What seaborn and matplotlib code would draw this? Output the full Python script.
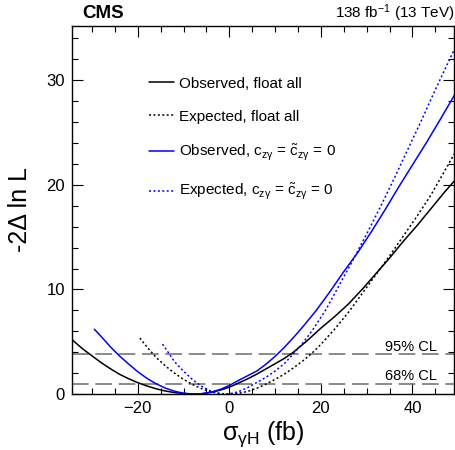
import matplotlib
matplotlib.use("Agg")
import matplotlib.pyplot as plt
from matplotlib.ticker import MultipleLocator
import seaborn as sns

# scan curves
obs_all_x = [-34.4, -32, -30, -28, -26, -24, -22, -20, -18, -16, -14, -12, -10, -8, -6, -4, -2, 0,
             2, 4, 6, 8, 10, 12, 14, 17, 20, 23, 26, 29, 32, 35, 38, 41, 44, 47, 49.2]
obs_all_y = [5.2, 4.3, 3.65, 3.0, 2.42, 1.89, 1.46, 1.08, 0.77, 0.50, 0.29, 0.14, 0.04, 0.0, 0.03, 0.15, 0.37, 0.65,
             1.05, 1.45, 1.9, 2.4, 2.9, 3.4, 4.0, 5.1, 6.3, 7.4, 8.6, 10.0, 11.5, 13.0, 14.6, 16.1, 17.7, 19.3, 20.4]

exp_all_x = [-19.55, -18, -16, -14, -12, -10, -8, -6, -4, -2, 0, 2, 4, 6, 8, 10, 12, 14, 16, 18,
             20, 23, 26, 29, 32, 35, 38, 41, 44, 47, 49.2]
exp_all_y = [5.35, 4.5, 3.5, 2.7, 2.0, 1.4, 0.9, 0.5, 0.2, 0.04, 0.0, 0.07, 0.25, 0.55, 0.95, 1.4, 1.9, 2.5, 3.15, 3.88,
             4.75, 6.2, 7.8, 9.6, 11.4, 13.2, 15.1, 17.0, 19.0, 21.3, 23.0]

obs_c0_x = [-29.5, -28, -26, -24, -22, -20, -18, -16, -14, -12, -10, -8, -6, -4, -2, 0, 2, 4, 6, 8,
            10, 12, 14, 16, 19, 22, 25, 28, 31, 34, 37, 40, 43, 46, 49.2]
obs_c0_y = [6.2, 5.5, 4.52, 3.64, 2.87, 2.13, 1.5, 0.98, 0.57, 0.27, 0.08, 0.0, 0.03, 0.18, 0.44, 0.82, 1.3, 1.75, 2.2, 2.85,
            3.6, 4.45, 5.4, 6.4, 8.0, 9.8, 11.7, 13.5, 15.5, 17.6, 19.8, 21.9, 24.0, 26.2, 28.6]

exp_c0_x = [-14.6, -14, -12, -10, -8, -6, -4, -2, -1, 0, 2, 4, 6, 8, 10, 12, 14, 16, 18, 21,
            24, 27, 30, 33, 36, 39, 42, 45, 49.2]
exp_c0_y = [4.77, 4.4, 3.1, 2.18, 1.36, 0.72, 0.26, 0.03, 0.0, 0.02, 0.22, 0.61, 1.1, 1.6, 2.2, 2.9, 3.85, 4.85, 6.0, 8.0,
            10.4, 12.8, 15.3, 17.9, 20.6, 23.4, 26.2, 29.1, 33.0]

cl_values = [1.0, 3.84]
cl_labels = ["68% CL", "95% CL"]

labels = ["Observed, float all",
          "Expected, float all",
          r"Observed, c$_{z\gamma}$ = $\tilde{\mathrm{c}}_{z\gamma}$ = 0",
          r"Expected, c$_{z\gamma}$ = $\tilde{\mathrm{c}}_{z\gamma}$ = 0"]

sns.set_style("ticks")
plt.rcParams["font.family"] = ["Liberation Sans", "DejaVu Sans"]
plt.rcParams["mathtext.fontset"] = "custom"
plt.rcParams["mathtext.rm"] = "Liberation Sans"
plt.rcParams["mathtext.it"] = "Liberation Sans"
plt.rcParams["mathtext.bf"] = "Liberation Sans:bold"
for k in ["text.color", "axes.labelcolor", "xtick.color", "ytick.color", "axes.edgecolor"]:
    plt.rcParams[k] = "black"

fig = plt.figure(figsize=(4.55, 4.5), dpi=100)
ax = fig.add_axes([0.158, 0.1244, 0.84, 0.818])

dot = (0, (1.3, 1.6))
sns.lineplot(x=obs_all_x, y=obs_all_y, ax=ax, color="black", lw=1.1, sort=False, estimator=None, label=labels[0])
sns.lineplot(x=exp_all_x, y=exp_all_y, ax=ax, color="black", lw=1.1, linestyle=dot, sort=False, estimator=None, label=labels[1])
sns.lineplot(x=obs_c0_x, y=obs_c0_y, ax=ax, color="#0000ff", lw=1.1, sort=False, estimator=None, label=labels[2])
sns.lineplot(x=exp_c0_x, y=exp_c0_y, ax=ax, color="#0000ff", lw=1.1, linestyle=dot, sort=False, estimator=None, label=labels[3])

for v, t in zip(cl_values, cl_labels):
    ax.axhline(v, color="#777777", lw=1.2, linestyle=(0, (10, 4)), zorder=1)
    ax.text(33.9, v + 0.3, t, fontsize=10.5, ha="left", va="baseline")

ax.set_xlim(-34.4, 49.1)
ax.set_ylim(0, 35.2)
ax.xaxis.set_major_locator(MultipleLocator(20))
ax.xaxis.set_minor_locator(MultipleLocator(5))
ax.yaxis.set_major_locator(MultipleLocator(10))
ax.yaxis.set_minor_locator(MultipleLocator(2))
ax.tick_params(which="both", direction="in", top=True, right=True, width=0.8, labelsize=12)
ax.tick_params(which="major", length=8, pad=5)
ax.tick_params(which="minor", length=4)
for s in ax.spines.values():
    s.set_linewidth(1.0)

ax.set_xlabel(r"$\sigma_{\gamma\mathrm{H}}$ (fb)", fontsize=18)
ax.set_ylabel("-2Δ ln L", fontsize=18)
ax.xaxis.set_label_coords(0.5, -0.07)
ax.yaxis.set_label_coords(-0.105, 0.5)

ax.legend(loc="upper left", bbox_to_anchor=(0.2016, 0.862), frameon=False, fontsize=11,
          handlelength=1.65, handletextpad=0.35, labelspacing=1.25, borderpad=0, borderaxespad=0)

fig.text(0.18, 0.96, "CMS", fontsize=13.5, fontweight="bold", ha="left", va="baseline")
fig.text(0.999, 0.96, r"138 fb$^{-1}$ (13 TeV)", fontsize=11, ha="right", va="baseline")

fig.savefig("out.png", dpi=100)
